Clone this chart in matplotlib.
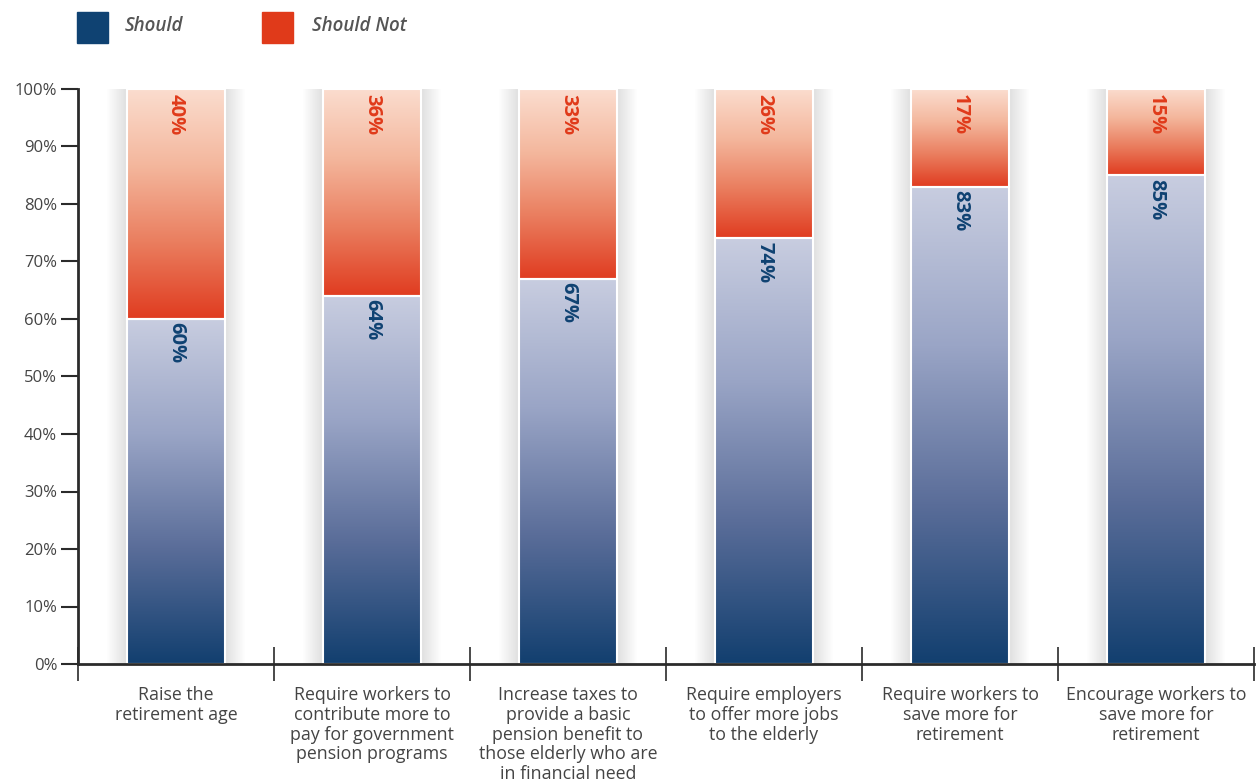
import numpy as np
import matplotlib.pyplot as plt
from matplotlib.colors import LinearSegmentedColormap

plt.rcParams['font.family'] = ['Open Sans', 'DejaVu Sans']

categories = [
    'Raise the\nretirement age',
    'Require workers to\ncontribute more to\npay for government\npension programs',
    'Increase taxes to\nprovide a basic\npension benefit to\nthose elderly who are\nin financial need',
    'Require employers\nto offer more jobs\nto the elderly',
    'Require workers to\nsave more for\nretirement',
    'Encourage workers to\nsave more for\nretirement',
]
should = [60, 64, 67, 74, 83, 85]
should_not = [40, 36, 33, 26, 17, 15]
yticks = [0, 10, 20, 30, 40, 50, 60, 70, 80, 90, 100]

blue = '#0f4272'
red = '#e03a1a'
blue_cmap = LinearSegmentedColormap.from_list('b', ['#123f6f', '#5a6d99', '#9aa5c6', '#c8cde0'])
red_cmap = LinearSegmentedColormap.from_list('r', ['#e03c20', '#ea7e5f', '#f4b79d', '#fbddcf'])

fig = plt.figure(figsize=(12.56, 7.83), dpi=100)
ax = fig.add_axes([78 / 1256, 1 - 664 / 783, 1176 / 1256, 575 / 783])

x = np.arange(len(categories)) + 0.5
width = 0.5

# soft shadow around the bars
for k in range(32):
    grow = 0.0065 * (k + 1)
    ax.bar(x, 100 + grow * 25, width=width + grow, bottom=-grow * 10,
           color='black', alpha=0.0045, linewidth=0, zorder=1)
ax.bar(x, 100, width=width, color='white', zorder=1.5, linewidth=0)

grad = np.linspace(0, 1, 256).reshape(-1, 1)
b_bars = ax.bar(x, should, width=width, color='none', edgecolor='white', linewidth=1.5, zorder=3)
r_bars = ax.bar(x, should_not, bottom=should, width=width, color='none',
                edgecolor='white', linewidth=1.5, zorder=3)
for bars, cmap in ((b_bars, blue_cmap), (r_bars, red_cmap)):
    for p in bars:
        x0, y0 = p.get_x(), p.get_y()
        ax.imshow(grad, cmap=cmap, origin='lower', aspect='auto', zorder=2,
                  extent=(x0, x0 + p.get_width(), y0, y0 + p.get_height()))

for xi, s, n in zip(x, should, should_not):
    ax.text(xi, s - 0.6, f'{s}%', rotation=270, ha='center', va='top',
            color=blue, fontsize=14.5, fontweight='bold', zorder=4)
    ax.text(xi, 100 - 0.8, f'{n}%', rotation=270, ha='center', va='top',
            color=red, fontsize=14.5, fontweight='bold', zorder=4)

ax.set_xlim(0, len(categories))
ax.set_ylim(0, 100)
ax.set_yticks(yticks)
ax.set_yticklabels([f'{v}%' for v in yticks], fontsize=12, color='#444444')
ax.set_xticks(np.arange(len(categories) + 1))
ax.set_xticklabels([])
ax.set_xticks(x, minor=True)
ax.set_xticklabels(categories, minor=True, fontsize=12.8, color='#444444', linespacing=1.12)
ax.tick_params(axis='x', which='major', direction='inout', length=24, width=1.2, color='#2b2b2b')
ax.tick_params(axis='x', which='minor', length=0, pad=16)
ax.tick_params(axis='y', length=12, width=1.5, color='#2b2b2b', pad=3)
for side in ('top', 'right'):
    ax.spines[side].set_visible(False)
for side in ('left', 'bottom'):
    ax.spines[side].set_linewidth(2)
    ax.spines[side].set_color('#2b2b2b')
ax.spines['bottom'].set_zorder(5)

# legend
fig.patches.append(plt.Rectangle((77 / 1256, 1 - 43 / 783), 31 / 1256, 31 / 783,
                                 transform=fig.transFigure, color=blue))
fig.patches.append(plt.Rectangle((262 / 1256, 1 - 43 / 783), 31 / 1256, 31 / 783,
                                 transform=fig.transFigure, color=red))
fig.text(125 / 1256, 1 - 26 / 783, 'Should', fontsize=13.5, style='italic',
         fontweight='semibold', color='#555555', va='center')
fig.text(312 / 1256, 1 - 26 / 783, 'Should Not', fontsize=13.5, style='italic',
         fontweight='semibold', color='#555555', va='center')

fig.savefig('out.png', dpi=100)
